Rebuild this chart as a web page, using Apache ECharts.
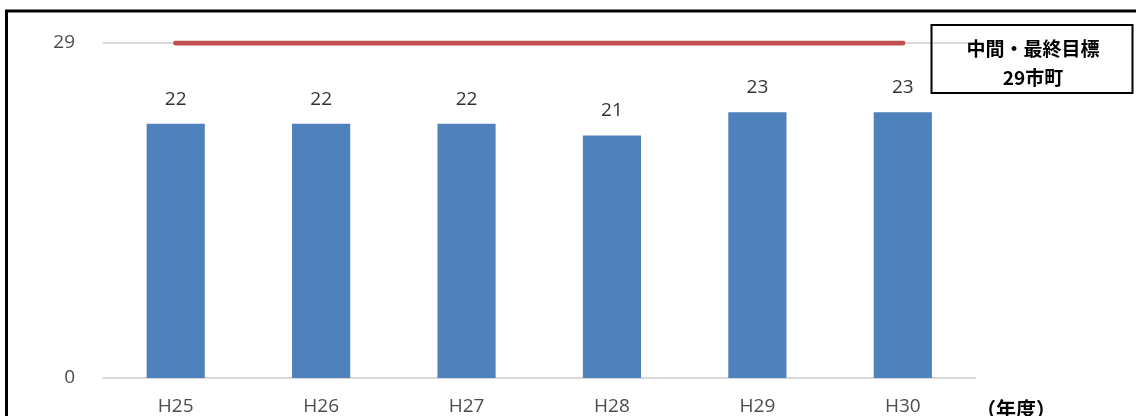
<!DOCTYPE html>
<html><head><meta charset="utf-8">
<script src="https://cdn.jsdelivr.net/npm/echarts@6/dist/echarts.min.js"></script>
<style>html,body{margin:0;padding:0;background:#fff}#c{width:1136px;height:416px}</style>
</head><body><div id="c"></div>
<script>
const categories = ['H25','H26','H27','H28','H29','H30'];
const values = [22, 22, 22, 21, 23, 23];
const targetValues = [29, 29, 29, 29, 29, 29];
const yTicks = [0, 29];
const boxLines = ['中間・最終目標', '29市町'];
const unitLabel = '（年度）';

const chart = echarts.init(document.getElementById('c'), null, {renderer:'canvas'});
const font = '"Open Sans", "Noto Sans CJK JP", sans-serif';
chart.setOption({
  animation: false,
  backgroundColor: '#fff',
  grid: {left: 103, right: 160.5, top: 43, bottom: 38, containLabel: false},
  xAxis: {
    type: 'category', data: categories,
    axisLine: {lineStyle: {color: '#d9d9d9', width: 2}},
    axisTick: {show: false},
    axisLabel: {color: '#4d4d4d', fontSize: 19, fontFamily: font, margin: 19}
  },
  yAxis: {
    type: 'value', min: yTicks[0], max: yTicks[1], interval: yTicks[1] - yTicks[0],
    axisLine: {show: false}, axisTick: {show: false},
    axisLabel: {color: '#4d4d4d', fontSize: 19, fontFamily: font, margin: 28},
    splitLine: {lineStyle: {color: '#d9d9d9', width: 2}}
  },
  series: [
    {
      type: 'bar', data: values, barWidth: '40%',
      itemStyle: {color: '#4f81bd'},
      label: {show: true, position: 'top', distance: 15, color: '#333333', fontSize: 19, fontFamily: font}
    },
    {
      type: 'line', data: targetValues, symbol: 'none',
      lineStyle: {color: '#c0504d', width: 5, cap: 'round'},
      z: 5
    }
  ],
  graphic: [
    {type: 'rect', shape: {x: 6.5, y: 11, width: 1300, height: 600}, style: {fill: 'none', stroke: '#000', lineWidth: 3}, z: 100},
    {type: 'rect', shape: {x: 931.5, y: 25, width: 201, height: 68}, style: {fill: 'none', stroke: '#000', lineWidth: 2}, z: 100},
    {type: 'text', x: 1033, y: 49, style: {text: boxLines[0], fill: '#000', font: 'bold 19px "Noto Sans CJK JP", sans-serif', align: 'center', verticalAlign: 'middle'}, z: 100},
    {type: 'text', x: 1033, y: 78, style: {text: boxLines[1], fill: '#000', font: 'bold 19px "Noto Sans CJK JP", sans-serif', align: 'center', verticalAlign: 'middle'}, z: 100},
    {type: 'text', x: 1016, y: 409, style: {text: unitLabel, fill: '#000', font: 'bold 20px "Noto Sans CJK JP", sans-serif', align: 'center', verticalAlign: 'middle'}, z: 100}
  ]
});
</script></body></html>
